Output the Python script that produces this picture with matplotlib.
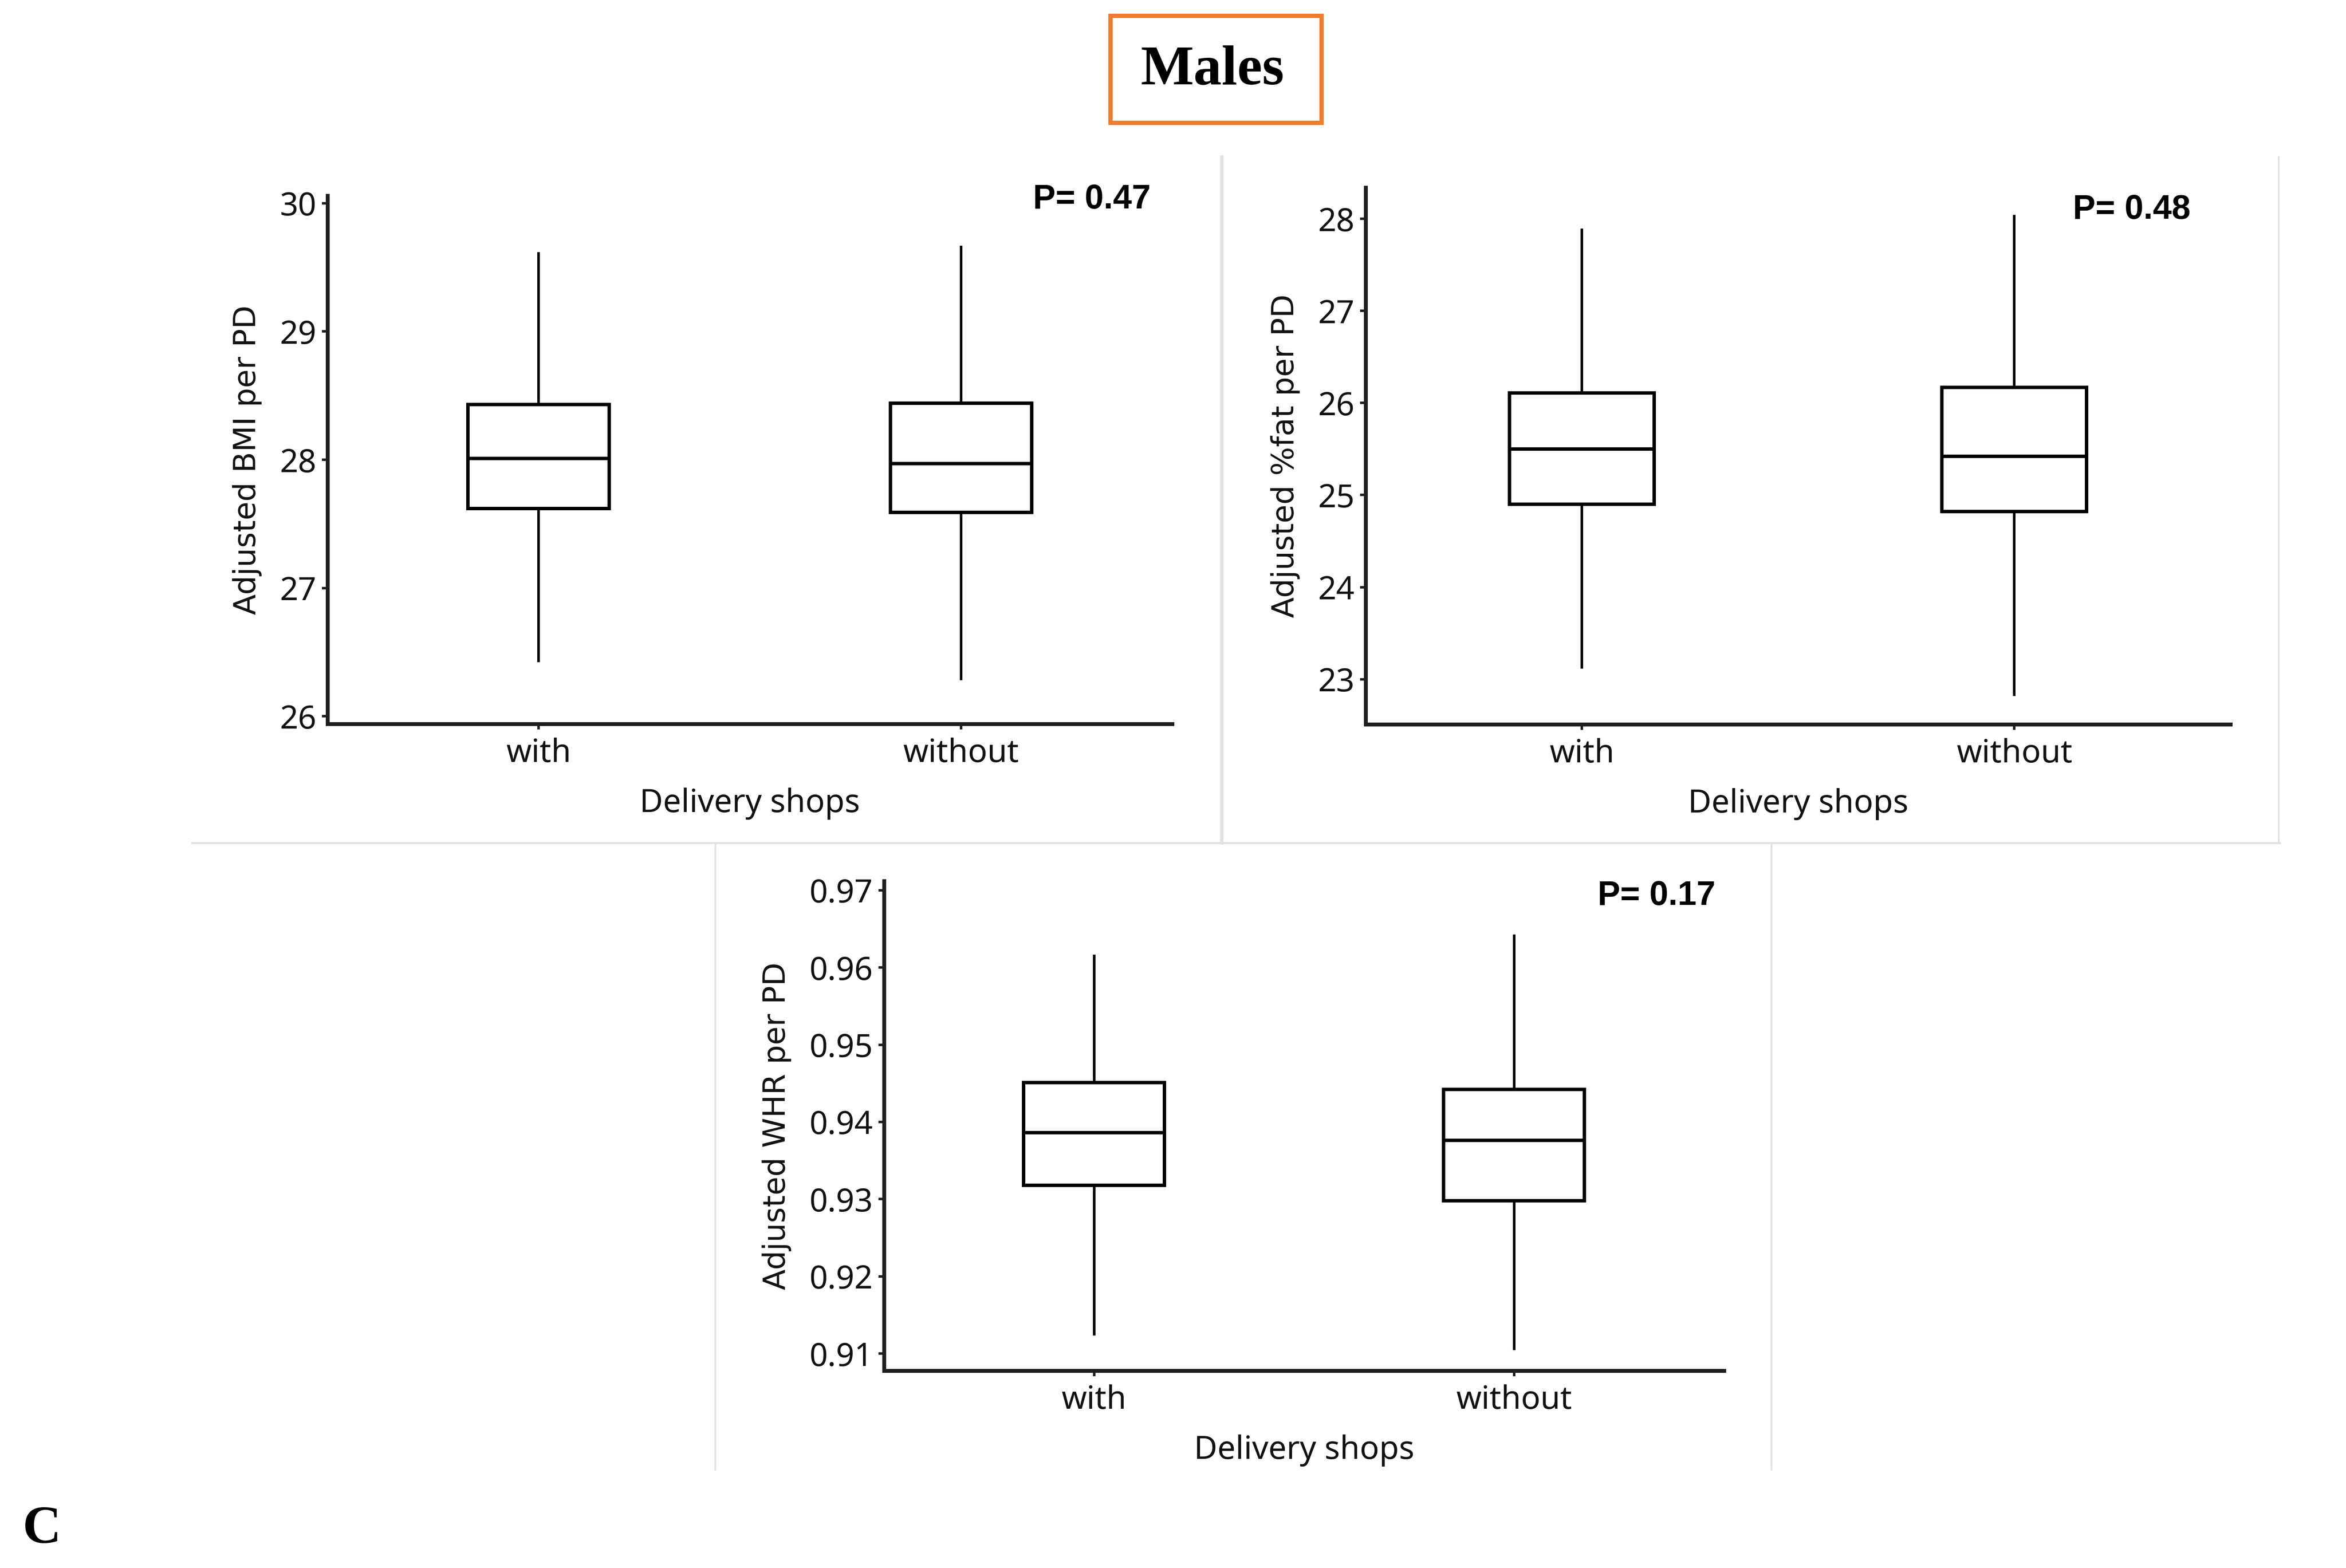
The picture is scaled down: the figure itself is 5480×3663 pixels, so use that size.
import matplotlib
matplotlib.use("Agg")
import matplotlib.pyplot as plt
from matplotlib.lines import Line2D
from matplotlib.patches import Rectangle

# ---------------- data ----------------
groups = ["with", "without"]

bmi_whislo = [26.43, 26.29]
bmi_q1 = [27.62, 27.59]
bmi_med = [28.01, 27.97]
bmi_q3 = [28.43, 28.44]
bmi_whishi = [29.61, 29.66]

fat_whislo = [23.13, 22.83]
fat_q1 = [24.90, 24.82]
fat_med = [25.50, 25.42]
fat_q3 = [26.11, 26.17]
fat_whishi = [27.88, 28.03]

whr_whislo = [0.9125, 0.9106]
whr_q1 = [0.9318, 0.9298]
whr_med = [0.9386, 0.9376]
whr_q3 = [0.9451, 0.9442]
whr_whishi = [0.9615, 0.9641]

bmi_ticks = [26, 27, 28, 29, 30]
fat_ticks = [23, 24, 25, 26, 27, 28]
whr_ticks = [0.91, 0.92, 0.93, 0.94, 0.95, 0.96, 0.97]

p_values = ["P= 0.47", "P= 0.48", "P= 0.17"]
ylabels = ["Adjusted BMI per PD", "Adjusted %fat per PD", "Adjusted WHR per PD"]
xlabel = "Delivery shops"

# ---------------- figure ----------------
W, H = 5480, 3663
DPI = 300
fig = plt.figure(figsize=(W / DPI, H / DPI), dpi=DPI)
fig.patch.set_facecolor("white")

def fx(px):
    return px / W

def fy(py):
    return 1 - py / H

def px2pt(px):
    return px * 72 / DPI

TICKFONT = ["Noto Sans", "DejaVu Sans"]
LABFONT = ["DejaVu Sans"]
PFONT = ["Liberation Sans", "DejaVu Sans"]
AXCOL = "#1e1e1e"

def make_panel(rect, whislo, q1, med, q3, whishi, ticks, ylim, ylabel, ptxt, ppos, fmt):
    ax = fig.add_axes(rect)
    stats = []
    for i in range(len(groups)):
        stats.append(dict(med=med[i], q1=q1[i], q3=q3[i],
                          whislo=whislo[i], whishi=whishi[i], fliers=[]))
    ax.bxp(stats, positions=[1, 2], widths=0.335, showcaps=False,
           showfliers=False, patch_artist=True,
           boxprops=dict(facecolor="white", edgecolor="black", linewidth=px2pt(8)),
           medianprops=dict(color="black", linewidth=px2pt(8)),
           whiskerprops=dict(color="black", linewidth=px2pt(6)))
    ax.set_xlim(0.5, 2.5)
    ax.set_ylim(*ylim)
    ax.set_xticks([1, 2])
    ax.set_xticklabels(groups)
    ax.set_yticks(ticks)
    ax.set_yticklabels([fmt(t) for t in ticks])
    for s in ["top", "right"]:
        ax.spines[s].set_visible(False)
    for s in ["left", "bottom"]:
        ax.spines[s].set_linewidth(px2pt(9))
        ax.spines[s].set_color(AXCOL)
    ax.tick_params(axis="both", length=3.2, width=1.4, color=AXCOL,
                   labelsize=18, labelcolor="#111111")
    ax.tick_params(axis="y", pad=3)
    ax.tick_params(axis="x", pad=4.5)
    for lab in ax.get_xticklabels() + ax.get_yticklabels():
        lab.set_family(TICKFONT)
    ax.set_ylabel(ylabel, family=LABFONT, fontsize=17, color="#111111", labelpad=10)
    ax.set_xlabel(xlabel, family=TICKFONT, fontsize=18, color="#111111", labelpad=10)
    ax.text(ppos[0], ppos[1], ptxt, transform=ax.transAxes, ha="right", va="center",
            family=PFONT, fontweight="bold", fontsize=19, color="black")
    ax.set_facecolor("white")
    return ax

# top-left
make_panel([fx(765), fy(1691), fx(2738 - 765), (1691 - 457) / H],
           bmi_whislo, bmi_q1, bmi_med, bmi_q3, bmi_whishi,
           bmi_ticks, (25.94, 30.06), ylabels[0], p_values[0], (0.9746, 0.9927),
           lambda t: f"{t:d}")
# top-right
make_panel([fx(3190), fy(1692), fx(5210 - 3190), (1692 - 438) / H],
           fat_whislo, fat_q1, fat_med, fat_q3, fat_whishi,
           fat_ticks, (22.51, 28.34), ylabels[1], p_values[1], (0.954, 0.9585),
           lambda t: f"{t:d}")
# bottom
make_panel([fx(2065), fy(3202), fx(4027 - 2065), (3202 - 2058) / H],
           whr_whislo, whr_q1, whr_med, whr_q3, whr_whishi,
           whr_ticks, (0.9078, 0.9712), ylabels[2], p_values[2], (0.990, 0.969),
           lambda t: f"{t:.2f}")

# ---------------- light panel separators ----------------
GRAY = "#e2e2e2"
seps = [
    ((449, 5325), (1969, 1969), 5),
    ((2854, 2854), (367, 1969), 8),
    ((5323, 5323), (367, 1969), 4),
    ((1671, 1671), (1969, 3433), 4),
    ((4138, 4138), (1969, 3433), 4),
]
for xs, ys, lw in seps:
    fig.add_artist(Line2D([fx(xs[0]), fx(xs[1])], [fy(ys[0]), fy(ys[1])],
                          transform=fig.transFigure, color=GRAY,
                          linewidth=px2pt(lw), zorder=0))

# ---------------- title box ----------------
fig.add_artist(Rectangle((fx(2594), fy(287)), fx(3087 - 2594), (287 - 37) / H,
                         transform=fig.transFigure, fill=False,
                         edgecolor="#ed7d31", linewidth=px2pt(10)))
fig.text(fx(2832), fy(197), "Males", ha="center", va="baseline",
         family=["Liberation Serif", "DejaVu Serif"], fontweight="bold",
         fontsize=31.5, color="black")

# panel letter
fig.text(fx(53), fy(3604), "C", ha="left", va="baseline",
         family=["Liberation Serif", "DejaVu Serif"], fontweight="bold",
         fontsize=30, color="black")

fig.savefig("out.png", dpi=DPI, facecolor="white")
